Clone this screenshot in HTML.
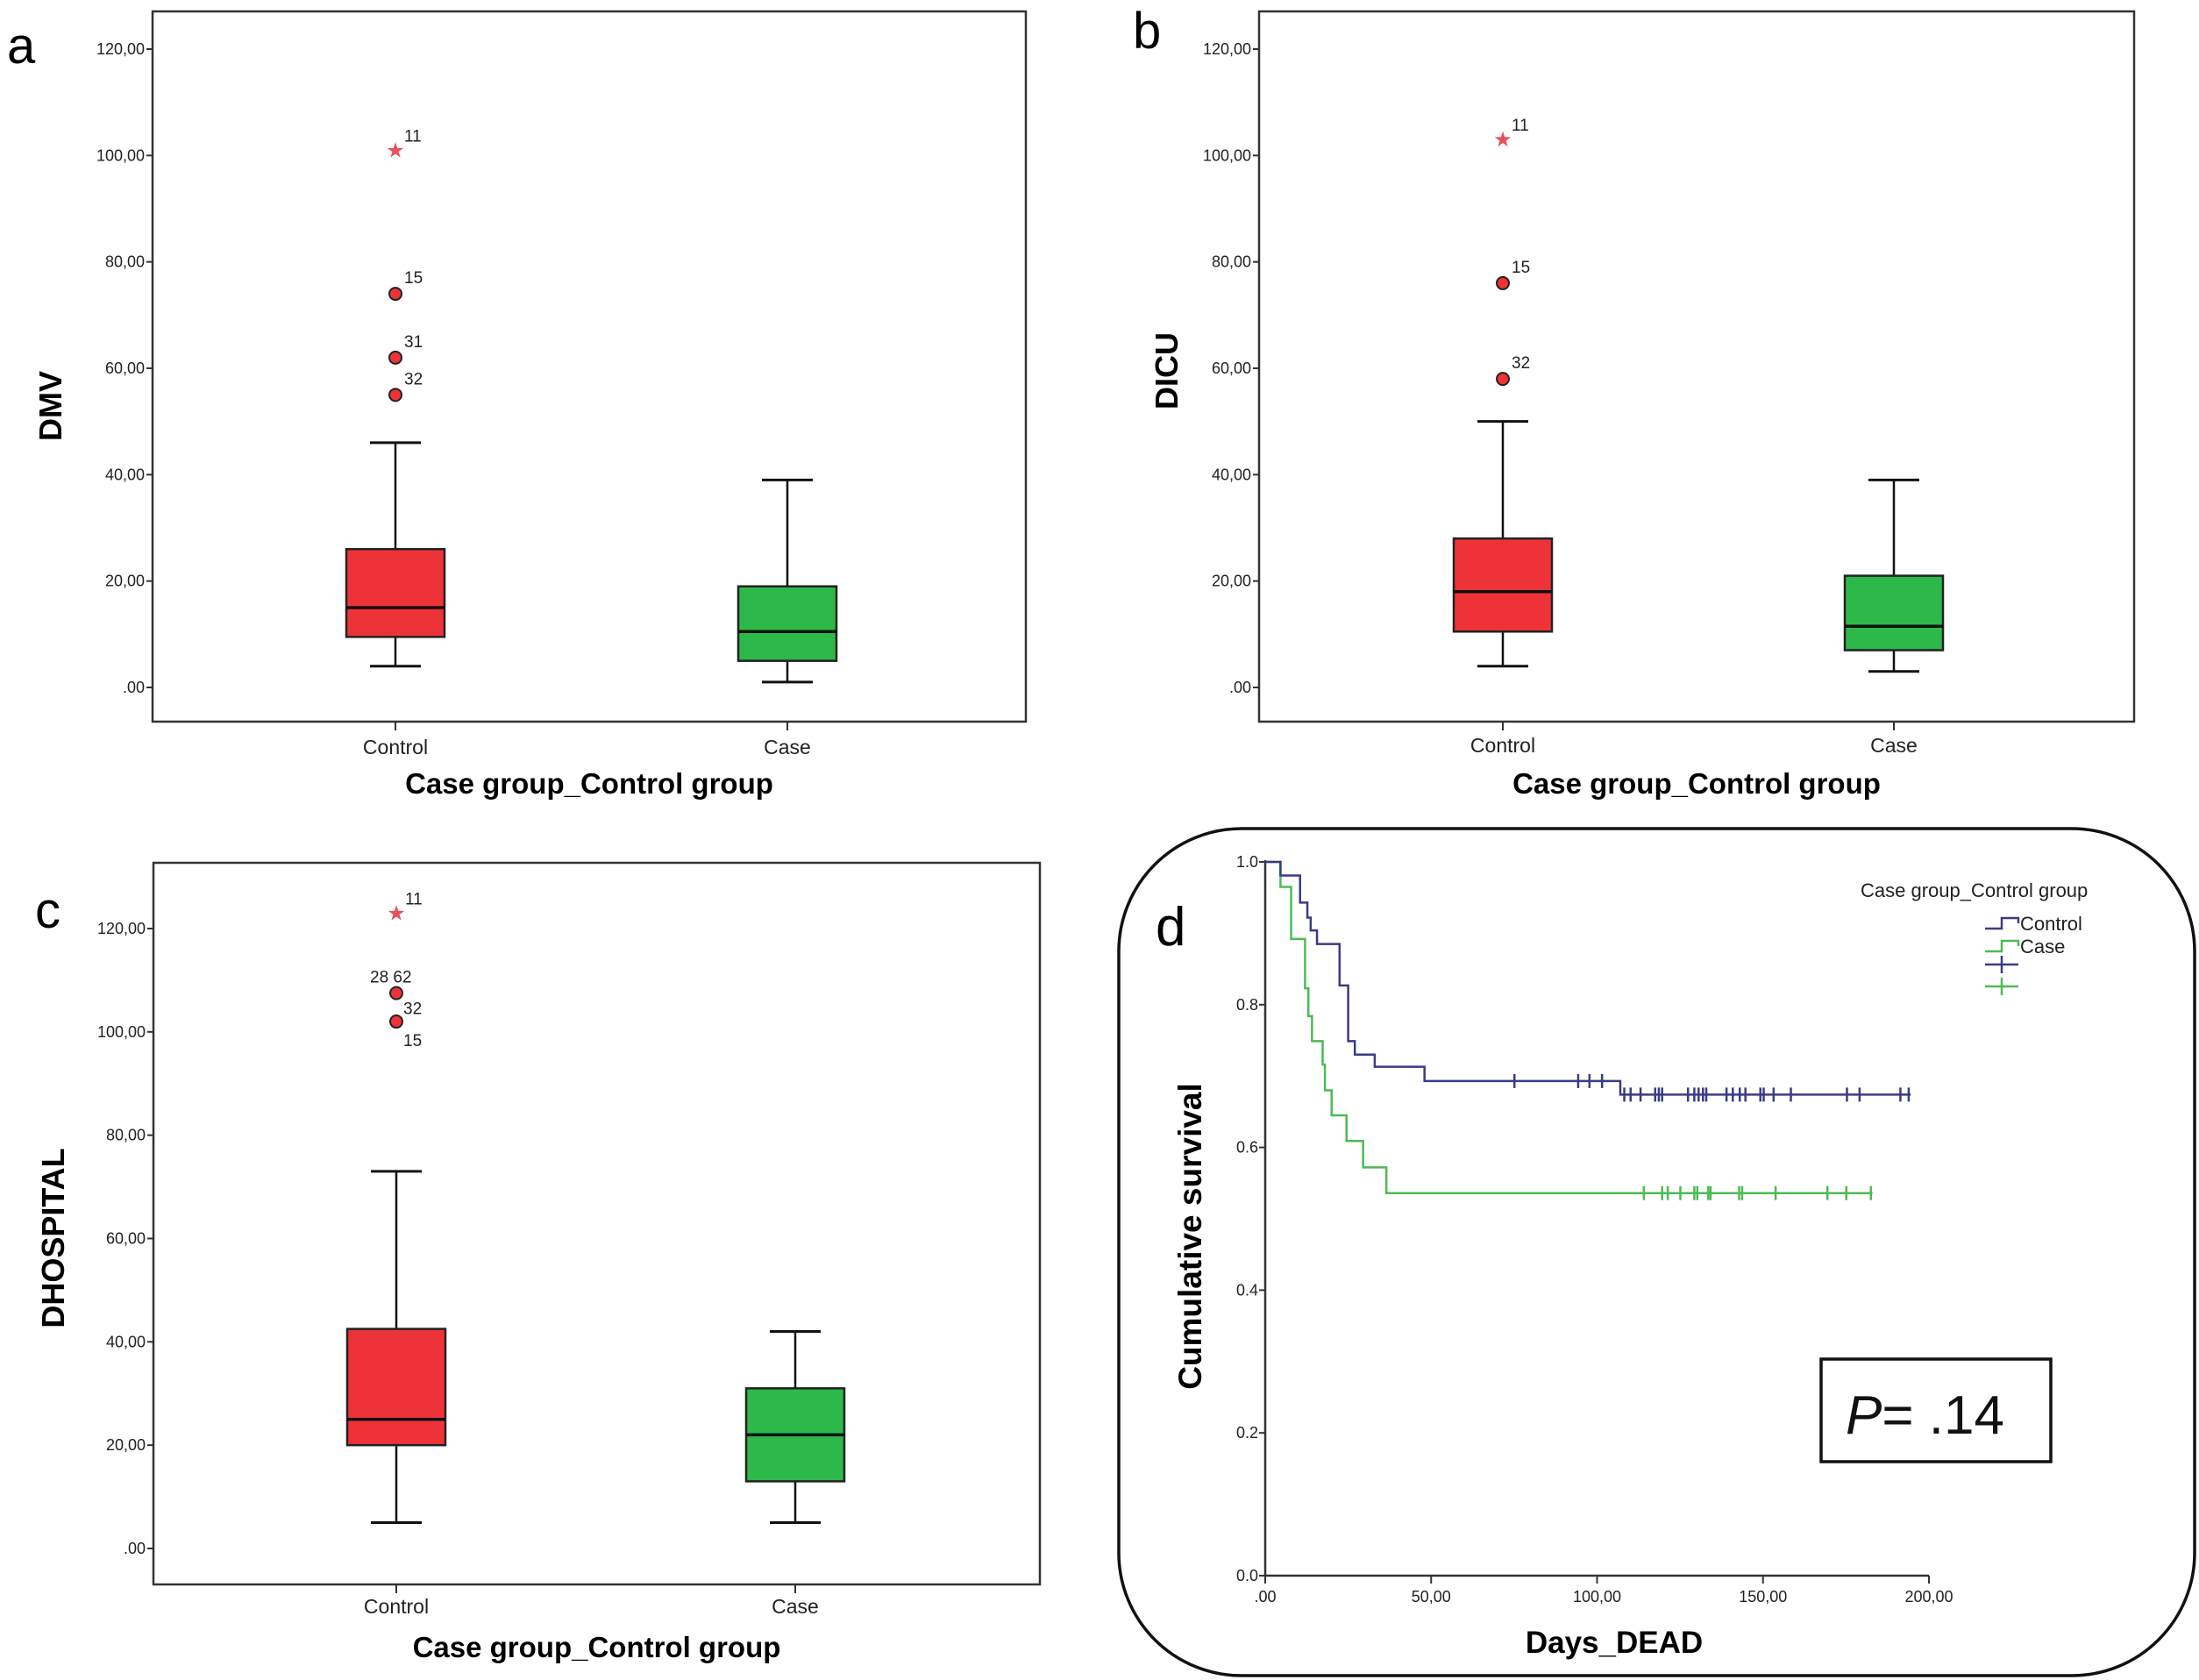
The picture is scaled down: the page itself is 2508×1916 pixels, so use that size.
<!DOCTYPE html>
<html><head><meta charset="utf-8"><style>
html,body{margin:0;padding:0;background:#fff}
svg{display:block;font-family:"Liberation Sans",Arial,sans-serif}
</style></head><body>
<svg id="fig" width="2508" height="1916" viewBox="0 0 2508 1916" xmlns="http://www.w3.org/2000/svg">
<text x="8" y="72" font-size="58">a</text>
<text x="1292" y="55" font-size="58">b</text>
<text x="40" y="1058" font-size="58">c</text>
<text x="1318" y="1078" font-size="62">d</text>
</svg>
<script>
// ---------- Box plot data ----------
const boxCategories = ["Control", "Case"];
const tickValuesBox = [0, 20, 40, 60, 80, 100, 120];
const tickLabelsBox = [".00", "20,00", "40,00", "60,00", "80,00", "100,00", "120,00"];
// [min, q1, median, q3, max]
const dmvControl = [4, 9.5, 15, 26, 46];
const dmvCase = [1, 5, 10.5, 19, 39];
const dmvOutliers = [55, 62, 74];
const dmvOutlierLabels = ["32", "31", "15"];
const dmvExtremes = [101];
const dmvExtremeLabels = ["11"];
const dicuControl = [4, 10.5, 18, 28, 50];
const dicuCase = [3, 7, 11.5, 21, 39];
const dicuOutliers = [58, 76];
const dicuOutlierLabels = ["32", "15"];
const dicuExtremes = [103];
const dicuExtremeLabels = ["11"];
const dhospControl = [5, 20, 25, 42.5, 73];
const dhospCase = [5, 13, 22, 31, 42];
const dhospOutliers = [102, 107.5];
const dhospOutlierLabels = ["15", "32"];
const dhospExtremes = [123];
const dhospExtremeLabels = ["11"];

// ---------- KM data ----------
const kmControlTimes = [0, 4.6, 10.5, 12.7, 13.7, 15.6, 22.4, 25, 27, 33, 48, 107];
const kmControlSurv = [1.0, 0.981, 0.943, 0.922, 0.904, 0.885, 0.827, 0.749, 0.73, 0.713, 0.693, 0.674];
const kmControlEnd = 194.5;
const kmControlCensor = [75.1, 94.3, 97.7, 101.5, 108.2, 110.1, 113.1, 117.5, 118.6, 119.6, 127.4, 129.3, 130.6, 131.9, 132.9, 139, 140.9, 143, 144.7, 149.2, 150.2, 153.2, 158.4, 175.3, 179.1, 191.4, 193.9];
const kmCaseTimes = [0, 4.6, 7.8, 12, 13, 14.1, 17.3, 18, 20, 24.5, 29.5, 36.5];
const kmCaseSurv = [1.0, 0.965, 0.892, 0.823, 0.784, 0.749, 0.716, 0.68, 0.645, 0.609, 0.572, 0.536];
const kmCaseEnd = 183;
const kmCaseCensor = [114.1, 119.6, 121.3, 125.1, 129.3, 130.2, 133.5, 134.2, 142.8, 143.7, 153.8, 169.4, 175.1, 182.5];
const kmXTicks = [0, 50, 100, 150, 200];
const kmXTickLabels = [".00", "50,00", "100,00", "150,00", "200,00"];
const kmYTicks = [0, 0.2, 0.4, 0.6, 0.8, 1.0];
const kmYTickLabels = ["0.0", "0.2", "0.4", "0.6", "0.8", "1.0"];

const NS = "http://www.w3.org/2000/svg";
const svg = document.getElementById("fig");
function mk(tag, attrs, parent) {
  const e = document.createElementNS(NS, tag);
  for (const k in attrs) e.setAttribute(k, attrs[k]);
  (parent || svg).appendChild(e);
  return e;
}

function boxPanel(p) {
  const g = mk("g", {});
  
  
  const y = v => p.y0 + (p.y120 - p.y0) * v / 120;
  const frame = mk("rect", {x: p.left, y: p.top, width: p.right - p.left, height: p.bottom - p.top, fill: "none", stroke: "#333", "stroke-width": 2.5}, g);
  
  
  tickValuesBox.forEach((v, i) => {
    mk("line", {x1: p.left - 7, x2: p.left, y1: y(v), y2: y(v), stroke: "#333", "stroke-width": 2}, g);
    const t = mk("text", {x: p.left - 9, y: y(v) + 6, "font-size": 18, "text-anchor": "end", fill: "#222"}, g);
    t.textContent = tickLabelsBox[i];
    
    
  });
  const xs = [p.cx0, p.cx1];
  const stats = [p.control, p.case];
  const fills = ["#ee3338", "#2db84a"];
  stats.forEach((s, i) => {
    const cx = xs[i];
    mk("line", {x1: cx, x2: cx, y1: p.bottom, y2: p.bottom + 10, stroke: "#333", "stroke-width": 2}, g);
    const cl = mk("text", {x: cx, y: p.catY, "font-size": 23, "text-anchor": "middle", fill: "#222"}, g);
    cl.textContent = boxCategories[i];
    
    
    mk("line", {x1: cx, x2: cx, y1: y(s[0]), y2: y(s[1]), stroke: "#111", "stroke-width": 2.5}, g);
    mk("line", {x1: cx, x2: cx, y1: y(s[3]), y2: y(s[4]), stroke: "#111", "stroke-width": 2.5}, g);
    mk("line", {x1: cx - 29, x2: cx + 29, y1: y(s[0]), y2: y(s[0]), stroke: "#111", "stroke-width": 3}, g);
    mk("line", {x1: cx - 29, x2: cx + 29, y1: y(s[4]), y2: y(s[4]), stroke: "#111", "stroke-width": 3}, g);
    const b = mk("rect", {x: cx - 56, y: y(s[3]), width: 112, height: y(s[1]) - y(s[3]), fill: fills[i], stroke: "#222", "stroke-width": 2.5}, g);
    
    
    mk("line", {x1: cx - 56, x2: cx + 56, y1: y(s[2]), y2: y(s[2]), stroke: "#111", "stroke-width": 3.5}, g);
  });
  p.outliers.forEach((v, i) => {
    const c = mk("circle", {cx: p.cx0, cy: y(v), r: 7, fill: "#ee3338", stroke: "#222", "stroke-width": 2}, g);
    
    
    const off = p.labelOff ? p.labelOff[i] : [10, -12];
    const t = mk("text", {x: p.cx0 + off[0], y: y(v) + off[1], "font-size": 19, fill: "#222"}, g);
    t.textContent = p.outlierLabels[i];
    
    
  });
  p.extremes.forEach((v, i) => {
    const s = mk("text", {x: p.cx0, y: y(v) + 8, "font-size": 24, "text-anchor": "middle", fill: "#e8505a"}, g);
    s.textContent = "★";
    
    
    const t = mk("text", {x: p.cx0 + 10, y: y(v) - 10, "font-size": 19, fill: "#222"}, g);
    t.textContent = p.extremeLabels[i];
    
    
  });
  if (p.extraLabel) {
    const t = mk("text", {x: p.cx0 - 30, y: y(p.extraLabel[0]) - 12, "font-size": 19, fill: "#222"}, g);
    t.textContent = p.extraLabel[1];
    
    
  }
  const yt = mk("text", {x: 0, y: 0, "font-size": 36, "font-weight": "bold", "text-anchor": "middle", transform: `translate(${p.ytX},${p.ytY}) rotate(-90)`}, g);
  yt.textContent = p.ytitle;
  
  
  const xt = mk("text", {x: (p.left + p.right) / 2, y: p.xtY, "font-size": 33, "font-weight": "bold", "text-anchor": "middle"}, g);
  xt.textContent = "Case group_Control group";
  
  
}

boxPanel({name: "boxplot-dmv", left: 174, right: 1170, top: 13, bottom: 823, y0: 784, y120: 56, cx0: 451, cx1: 898, catY: 860, xtY: 905, ytX: 70, ytY: 463, ytitle: "DMV",
  control: dmvControl, case: dmvCase, outliers: dmvOutliers, outlierLabels: dmvOutlierLabels, extremes: dmvExtremes, extremeLabels: dmvExtremeLabels});
boxPanel({name: "boxplot-dicu", left: 1436, right: 2434, top: 13, bottom: 823, y0: 784, y120: 56, cx0: 1714, cx1: 2160, catY: 858, xtY: 905, ytX: 1343, ytY: 423, ytitle: "DICU",
  control: dicuControl, case: dicuCase, outliers: dicuOutliers, outlierLabels: dicuOutlierLabels, extremes: dicuExtremes, extremeLabels: dicuExtremeLabels});
boxPanel({name: "boxplot-dhospital", left: 175, right: 1186, top: 984, bottom: 1807, y0: 1766, y120: 1059, cx0: 452, cx1: 907, catY: 1840, xtY: 1890, ytX: 73, ytY: 1412, ytitle: "DHOSPITAL",
  control: dhospControl, case: dhospCase, outliers: dhospOutliers, outlierLabels: dhospOutlierLabels, extremes: dhospExtremes, extremeLabels: dhospExtremeLabels,
  labelOff: [[8, 28], [8, 24]], extraLabel: [107.5, "28 62"]});

// ---------- KM panel ----------
(function () {
  const g = mk("g", {});
  
  
  const frame = mk("rect", {x: 1276, y: 945, width: 1227, height: 966, rx: 140, ry: 140, fill: "none", stroke: "#111", "stroke-width": 3.5}, g);
  
  
  const X0 = 1443, X1 = 2200, Y0 = 1797, Y1 = 983;
  const x = d => X0 + (X1 - X0) * d / 200;
  const y = s => Y0 + (Y1 - Y0) * s;
  mk("line", {x1: X0, x2: X1, y1: Y0, y2: Y0, stroke: "#333", "stroke-width": 2.5}, g);
  mk("line", {x1: X0, x2: X0, y1: Y1 - 2, y2: Y0, stroke: "#333", "stroke-width": 2.5}, g);
  kmXTicks.forEach((v, i) => {
    mk("line", {x1: x(v), x2: x(v), y1: Y0, y2: Y0 + 9, stroke: "#333", "stroke-width": 2}, g);
    const t = mk("text", {x: x(v), y: Y0 + 30, "font-size": 18, "text-anchor": "middle", fill: "#222"}, g);
    t.textContent = kmXTickLabels[i];
    
    
  });
  kmYTicks.forEach((v, i) => {
    mk("line", {x1: X0 - 7, x2: X0, y1: y(v), y2: y(v), stroke: "#333", "stroke-width": 2}, g);
    const t = mk("text", {x: X0 - 8, y: y(v) + 6, "font-size": 18, "text-anchor": "end", fill: "#222"}, g);
    t.textContent = kmYTickLabels[i];
    
    
  });
  function curve(times, surv, end, censor, color, name) {
    let d = `M${x(times[0])},${y(surv[0])}`;
    for (let i = 1; i < times.length; i++) d += ` H${x(times[i])} V${y(surv[i])}`;
    d += ` H${x(end)}`;
    const pth = mk("path", {d: d, fill: "none", stroke: color, "stroke-width": 2.5}, g);
    
    
    censor.forEach(c => {
      let s = surv[0];
      for (let i = 0; i < times.length; i++) if (times[i] <= c) s = surv[i];
      const m = mk("path", {d: `M${x(c)},${y(s) - 8} V${y(s) + 8}`, stroke: color, "stroke-width": 2.5}, g);
      
      
    });
  }
  curve(kmCaseTimes, kmCaseSurv, kmCaseEnd, kmCaseCensor, "#4dbb55", "case");
  curve(kmControlTimes, kmControlSurv, kmControlEnd, kmControlCensor, "#3b3b85", "control");
  // legend
  const lt = mk("text", {x: 2122, y: 1023, "font-size": 22, fill: "#222"}, g);
  lt.textContent = "Case group_Control group";
  
  
  [["Control", "#3b3b85", 1053], ["Case", "#4dbb55", 1079]].forEach(e => {
    const p = mk("path", {d: `M2264,${e[2] + 6} H2283 V${e[2] - 6} H2302 V${e[2]}`, fill: "none", stroke: e[1], "stroke-width": 2.5}, g);
    
    
    const t = mk("text", {x: 2304, y: e[2] + 8, "font-size": 22, fill: "#222"}, g);
    t.textContent = e[0];
    
    
  });
  [["#3b3b85", 1100], ["#4dbb55", 1125]].forEach(e => {
    const p = mk("path", {d: `M2264,${e[1]} H2302 M2283,${e[1] - 10} V${e[1] + 10}`, stroke: e[0], "stroke-width": 2.5}, g);
    
    
  });
  const pb = mk("rect", {x: 2077, y: 1550, width: 262, height: 117, fill: "#fff", stroke: "#111", "stroke-width": 3.5}, g);
  
  
  const pt = mk("text", {x: 2105, y: 1635, "font-size": 62, fill: "#111"}, g);
  pt.innerHTML = '<tspan font-style="italic">P</tspan>= .14';
  
  
  const yt = mk("text", {x: 0, y: 0, "font-size": 37, "font-weight": "bold", "text-anchor": "middle", transform: "translate(1370,1410) rotate(-90)"}, g);
  yt.textContent = "Cumulative survival";
  
  
  const xt = mk("text", {x: 1841, y: 1885, "font-size": 35, "font-weight": "bold", "text-anchor": "middle"}, g);
  xt.textContent = "Days_DEAD";
  
  
})();
</script>
</body></html>
